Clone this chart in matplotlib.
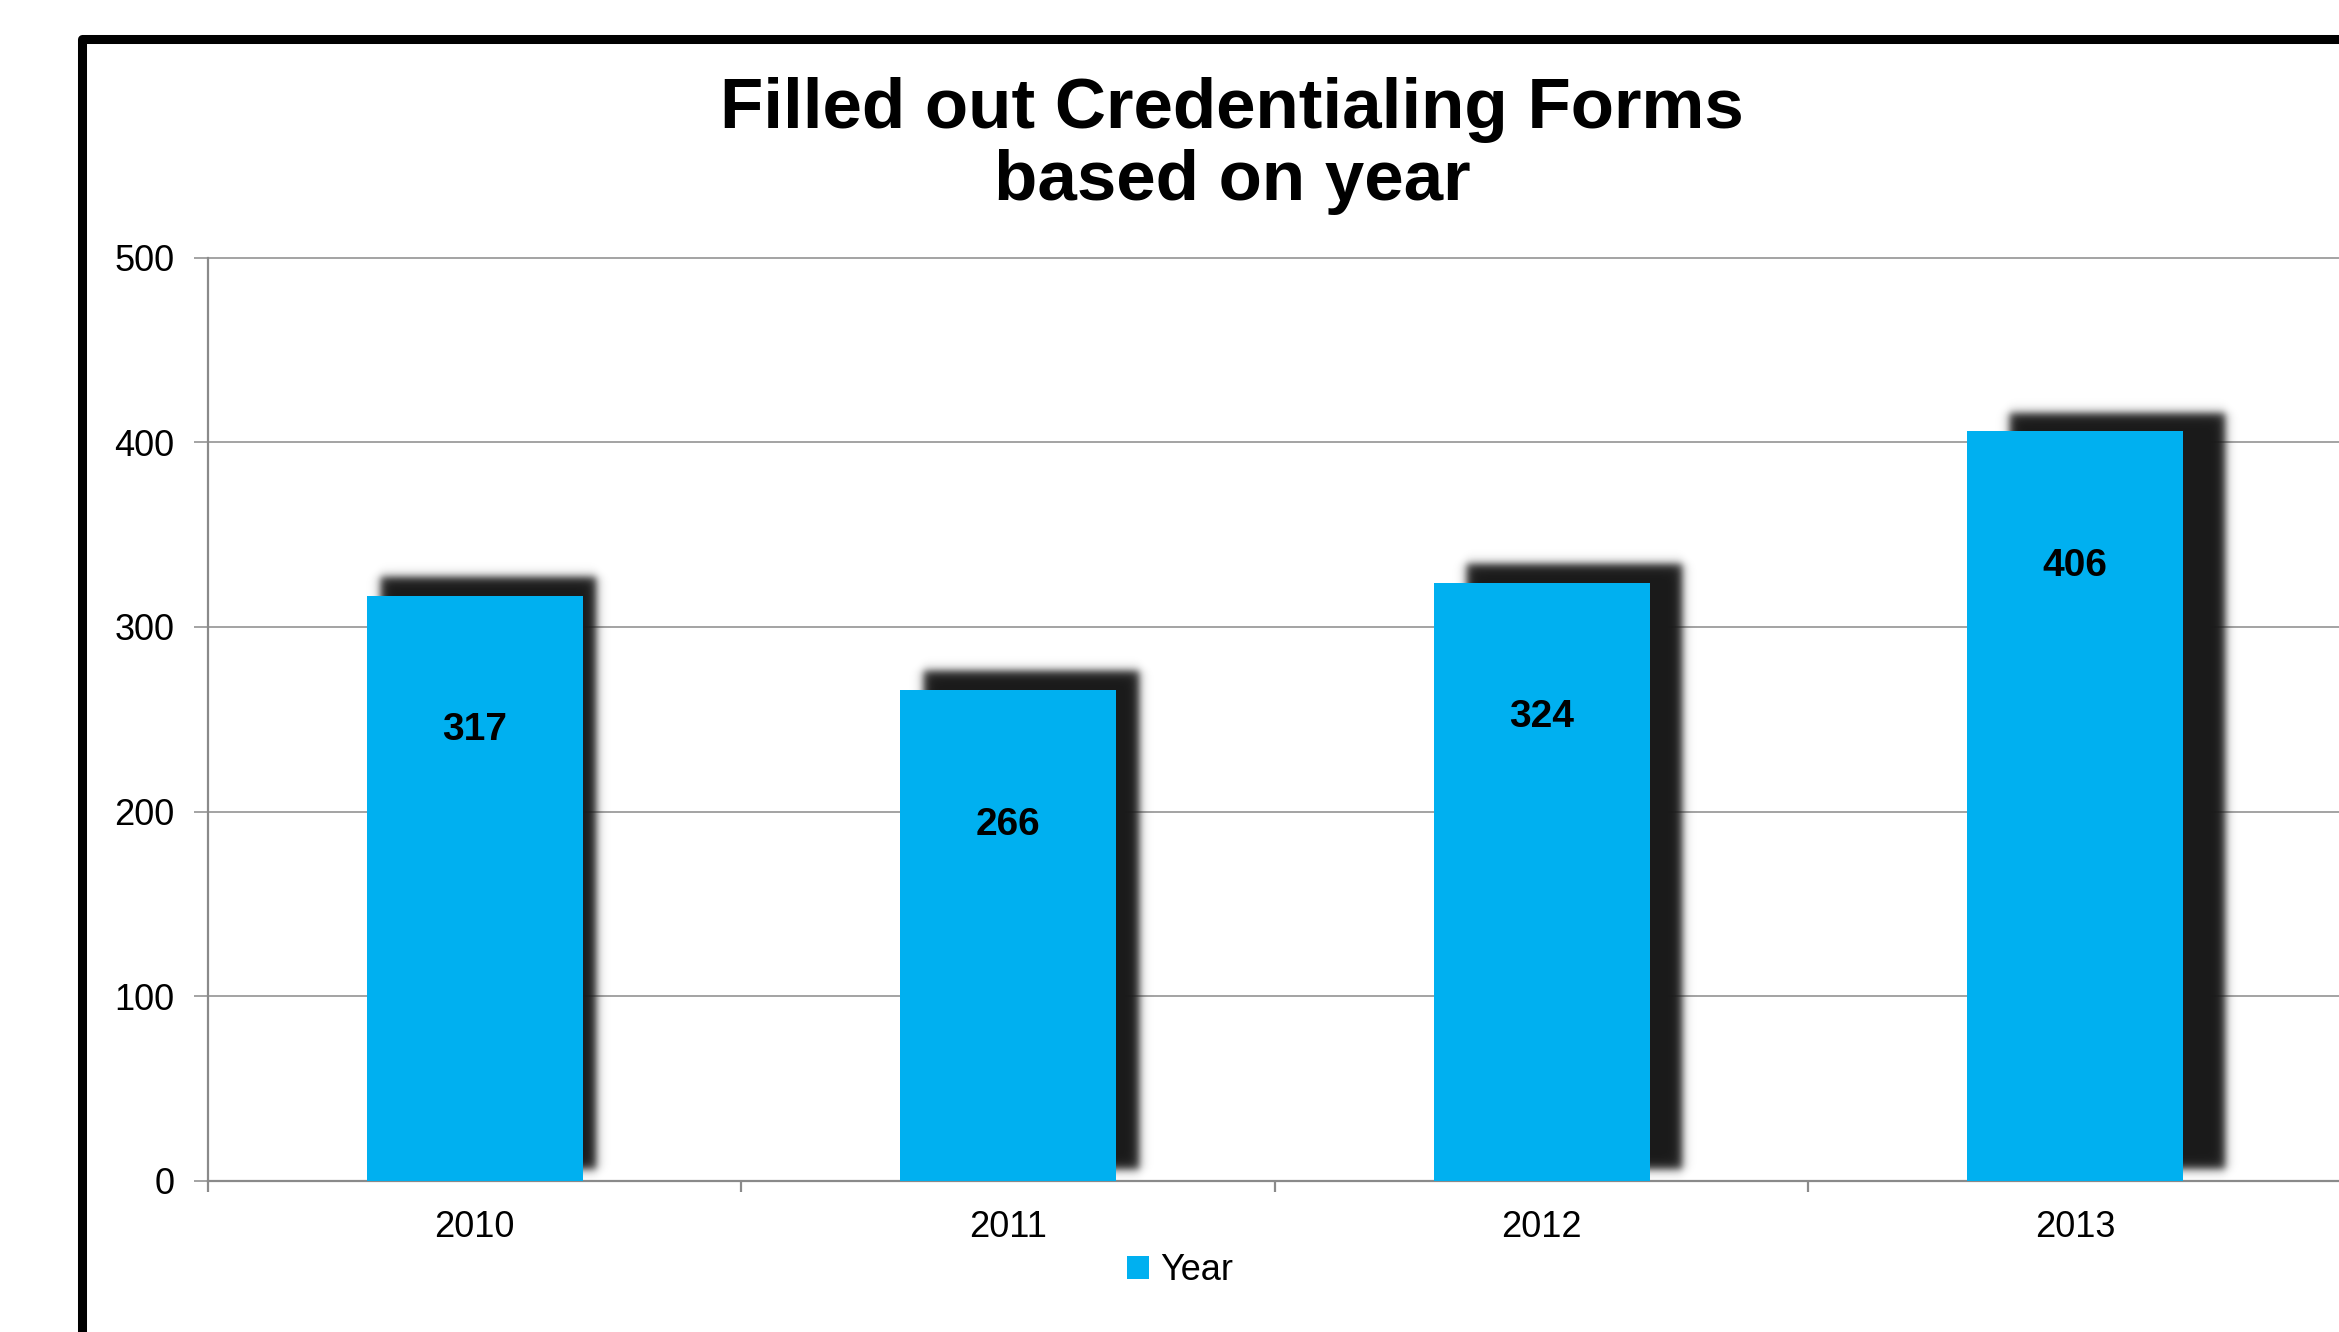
import numpy as np
import matplotlib
matplotlib.use("Agg")
from matplotlib import pyplot as plt
from matplotlib.patches import Rectangle

years = ["2010", "2011", "2012", "2013"]
forms = [317, 266, 324, 406]
series_name = "Year"
title = "Filled out Credentialing Forms\nbased on year"
y_ticks = [0, 100, 200, 300, 400, 500]

bar_color = "#00B0F0"
shadow_rgb = (0.1, 0.1, 0.1)
grid_color = "#8a8a8a"

plt.rcParams["font.family"] = ["Liberation Sans", "DejaVu Sans"]

W, H, DPI = 2339, 1332, 100
fig = plt.figure(figsize=(W / DPI, H / DPI), dpi=DPI)
fig.patch.set_facecolor("white")

# thick black frame round the chart (right / bottom run off the picture)
frame = Rectangle((81.5 / W, -0.2), 1.3, 1 - 39 / H + 0.2,
                  transform=fig.transFigure, fill=False, edgecolor="black",
                  linewidth=6.5, joinstyle="round")
fig.add_artist(frame)

left, right = 207.8, 2341.8
top, bottom = 257.5, 1181
ax = fig.add_axes([left / W, 1 - bottom / H, (right - left) / W, (bottom - top) / H])

x = np.arange(len(years))
px_x = 1.0 / ((right - left) / len(years))   # data units per pixel, x
px_y = 500.0 / (bottom - top)                # data units per pixel, y

# soft drop shadows behind the bars, drifting right a little more per bar
def shadow(ax, x0, x1, y0, y1, soft=2.6):
    pad = 14
    gx = np.linspace(x0 - pad * px_x, x1 + pad * px_x, 200)
    gy = np.linspace(y0 - pad * px_y, y1 + pad * px_y, 400)
    sx = 1 / (1 + np.exp(-(gx - x0) / (soft * px_x))) * 1 / (1 + np.exp(-(x1 - gx) / (soft * px_x)))
    sy = 1 / (1 + np.exp(-(gy - y0) / (soft * px_y))) * 1 / (1 + np.exp(-(y1 - gy) / (soft * px_y)))
    a = np.outer(sy, sx)
    img = np.zeros(a.shape + (4,))
    img[..., 0], img[..., 1], img[..., 2] = shadow_rgb
    img[..., 3] = a
    ax.imshow(img, extent=[gx[0], gx[-1], gy[0], gy[-1]], origin="lower",
              aspect="auto", interpolation="bilinear", zorder=2)

bw = 0.405
for i, v in enumerate(forms):
    dx = (13 + 9.6 * i) * px_x
    shadow(ax, x[i] - bw / 2 + dx, x[i] + bw / 2 + dx, 11 * px_y, v + 19 * px_y)

bars = ax.bar(x, forms, width=bw, color=bar_color, zorder=3, label=series_name)

for i, v in enumerate(forms):
    ax.text(x[i], v - 73, str(v), ha="center", va="center", fontsize=28,
            fontweight="bold", color="black", zorder=4)

ax.set_xlim(-0.5, len(years) - 0.5)
ax.set_ylim(0, 500)
ax.set_yticks(y_ticks)
ax.set_yticklabels([str(t) for t in y_ticks])
ax.set_xticks(x)
ax.set_xticklabels(years)
ax.set_xticks(np.arange(len(years) + 1) - 0.5, minor=True)

ax.set_axisbelow(True)
ax.yaxis.grid(True, color=grid_color, linewidth=1.1)
for gl in ax.get_ygridlines():
    gl.set_clip_on(False)

for s in ["top", "right"]:
    ax.spines[s].set_visible(False)
for s in ["left", "bottom"]:
    ax.spines[s].set_color(grid_color)
    ax.spines[s].set_linewidth(1.6)

ax.tick_params(axis="y", which="major", length=10, width=1.1, color=grid_color,
               labelsize=26, pad=14, labelcolor="black")
ax.tick_params(axis="x", which="major", length=0, labelsize=26, pad=21,
               labelcolor="black")
ax.tick_params(axis="x", which="minor", length=8, width=1.6, color=grid_color)

fig.text(1232 / W, 1 - 146 / H, title, ha="center", va="center", fontsize=51,
         fontweight="bold", linespacing=1.1)

fig.legend(handles=[bars], labels=[series_name], loc="center",
           bbox_to_anchor=(1180 / W, 1 - 1271 / H), frameon=False, fontsize=26,
           handlelength=0.6, handleheight=0.6, handletextpad=0.3)

fig.savefig("out.png", dpi=DPI, facecolor="white")
